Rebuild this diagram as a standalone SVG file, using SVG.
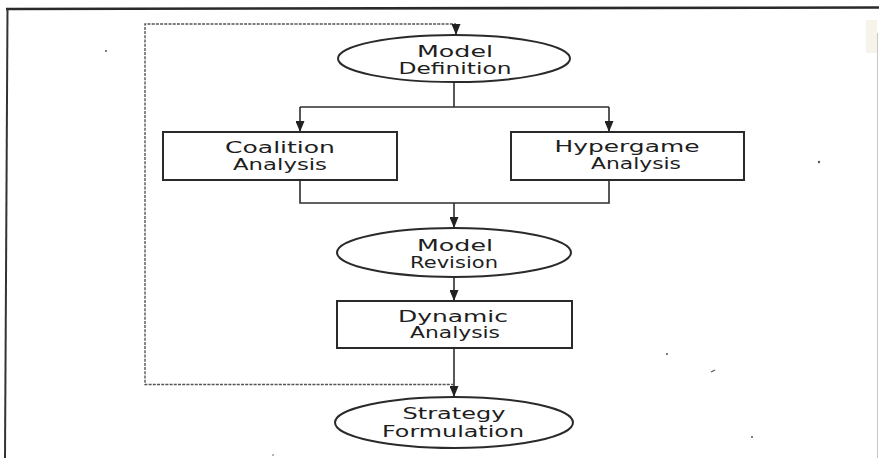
<svg xmlns="http://www.w3.org/2000/svg" width="879" height="458" viewBox="0 0 879 458">
<style>
.node{fill:none;stroke:#2a2a2a;stroke-width:2}
.lbl{font-family:"DejaVu Sans","Liberation Sans",sans-serif;font-size:15px;fill:#1e1e1e;text-anchor:middle}
.conn{fill:none;stroke:#2e2e2e;stroke-width:1.6}
.fb{fill:none;stroke:#555;stroke-width:1.4;stroke-dasharray:3 1.2}
</style>
<defs>
<marker id="ah" markerUnits="userSpaceOnUse" markerWidth="12" markerHeight="9" refX="11" refY="4.5" orient="auto">
<path d="M0,0 L11,4.5 L0,9 Z" fill="#222"/>
</marker>
</defs>
<rect x="0" y="0" width="879" height="458" fill="#ffffff"/>
<g id="frame">
<path d="M6,9 L879,7.5" stroke="#2a2a2a" stroke-width="2.6" fill="none"/>
<path d="M7.5,9 L5,458" stroke="#333" stroke-width="2" fill="none"/>
<path d="M877.5,33 L877.5,458" stroke="#c8c8c8" stroke-width="1" fill="none"/>
<rect x="866" y="20" width="11" height="33" fill="#f6f4ea"/>
</g>
<g id="connectors">
<path class="conn" d="M454,82 L454,107"/>
<path class="conn" d="M300,107 L609,107"/>
<path class="conn" d="M300,107 L300,132" marker-end="url(#ah)"/>
<path class="conn" d="M609,107 L609,132" marker-end="url(#ah)"/>
<path class="conn" d="M300,180 L300,203 L609,203 L609,180"/>
<path class="conn" d="M454,203 L454,228" marker-end="url(#ah)"/>
<path class="conn" d="M454,277 L454,301" marker-end="url(#ah)"/>
<path class="conn" d="M454,348 L454,397" marker-end="url(#ah)"/>
<path class="fb" d="M454,384.5 L145,384.5 L145,24 L456,24"/>
<path class="conn" d="M456,24 L456,35" marker-end="url(#ah)"/>
</g>
<g id="model-definition">
<ellipse class="node" cx="454" cy="58.5" rx="116" ry="23.5"/>
<text class="lbl" x="455" y="57" textLength="76" lengthAdjust="spacingAndGlyphs">Model</text>
<text class="lbl" x="455" y="73.5" textLength="113" lengthAdjust="spacingAndGlyphs">Definition</text>
</g>
<g id="coalition-analysis">
<rect class="node" x="163" y="132" width="234" height="48"/>
<text class="lbl" x="280" y="153" textLength="110" lengthAdjust="spacingAndGlyphs">Coalition</text>
<text class="lbl" x="280" y="169.5" textLength="94" lengthAdjust="spacingAndGlyphs">Analysis</text>
</g>
<g id="hypergame-analysis">
<rect class="node" x="511" y="132" width="233" height="48"/>
<text class="lbl" x="627" y="152" textLength="145" lengthAdjust="spacingAndGlyphs">Hypergame</text>
<text class="lbl" x="636" y="168.5" textLength="90" lengthAdjust="spacingAndGlyphs">Analysis</text>
</g>
<g id="model-revision">
<ellipse class="node" cx="454" cy="252.5" rx="117" ry="24.5"/>
<text class="lbl" x="455" y="251" textLength="76" lengthAdjust="spacingAndGlyphs">Model</text>
<text class="lbl" x="454" y="268" textLength="88" lengthAdjust="spacingAndGlyphs">Revision</text>
</g>
<g id="dynamic-analysis">
<rect class="node" x="337" y="301" width="235" height="47"/>
<text class="lbl" x="453" y="322" textLength="110" lengthAdjust="spacingAndGlyphs">Dynamic</text>
<text class="lbl" x="455" y="338" textLength="90" lengthAdjust="spacingAndGlyphs">Analysis</text>
</g>
<g id="strategy-formulation">
<ellipse class="node" cx="454" cy="422.5" rx="119" ry="25.5"/>
<text class="lbl" x="454" y="419" textLength="103" lengthAdjust="spacingAndGlyphs">Strategy</text>
<text class="lbl" x="453" y="437" textLength="142" lengthAdjust="spacingAndGlyphs">Formulation</text>
</g>
<g id="specks" fill="#555">
<circle cx="106" cy="51" r="1"/>
<circle cx="819" cy="162" r="1.2"/>
<circle cx="667" cy="354" r="1"/>
<path d="M711,372 L715,370" stroke="#555" stroke-width="1.2"/>
<circle cx="752" cy="437" r="1"/>
<circle cx="273" cy="455" r="0.8"/>
</g>
</svg>
